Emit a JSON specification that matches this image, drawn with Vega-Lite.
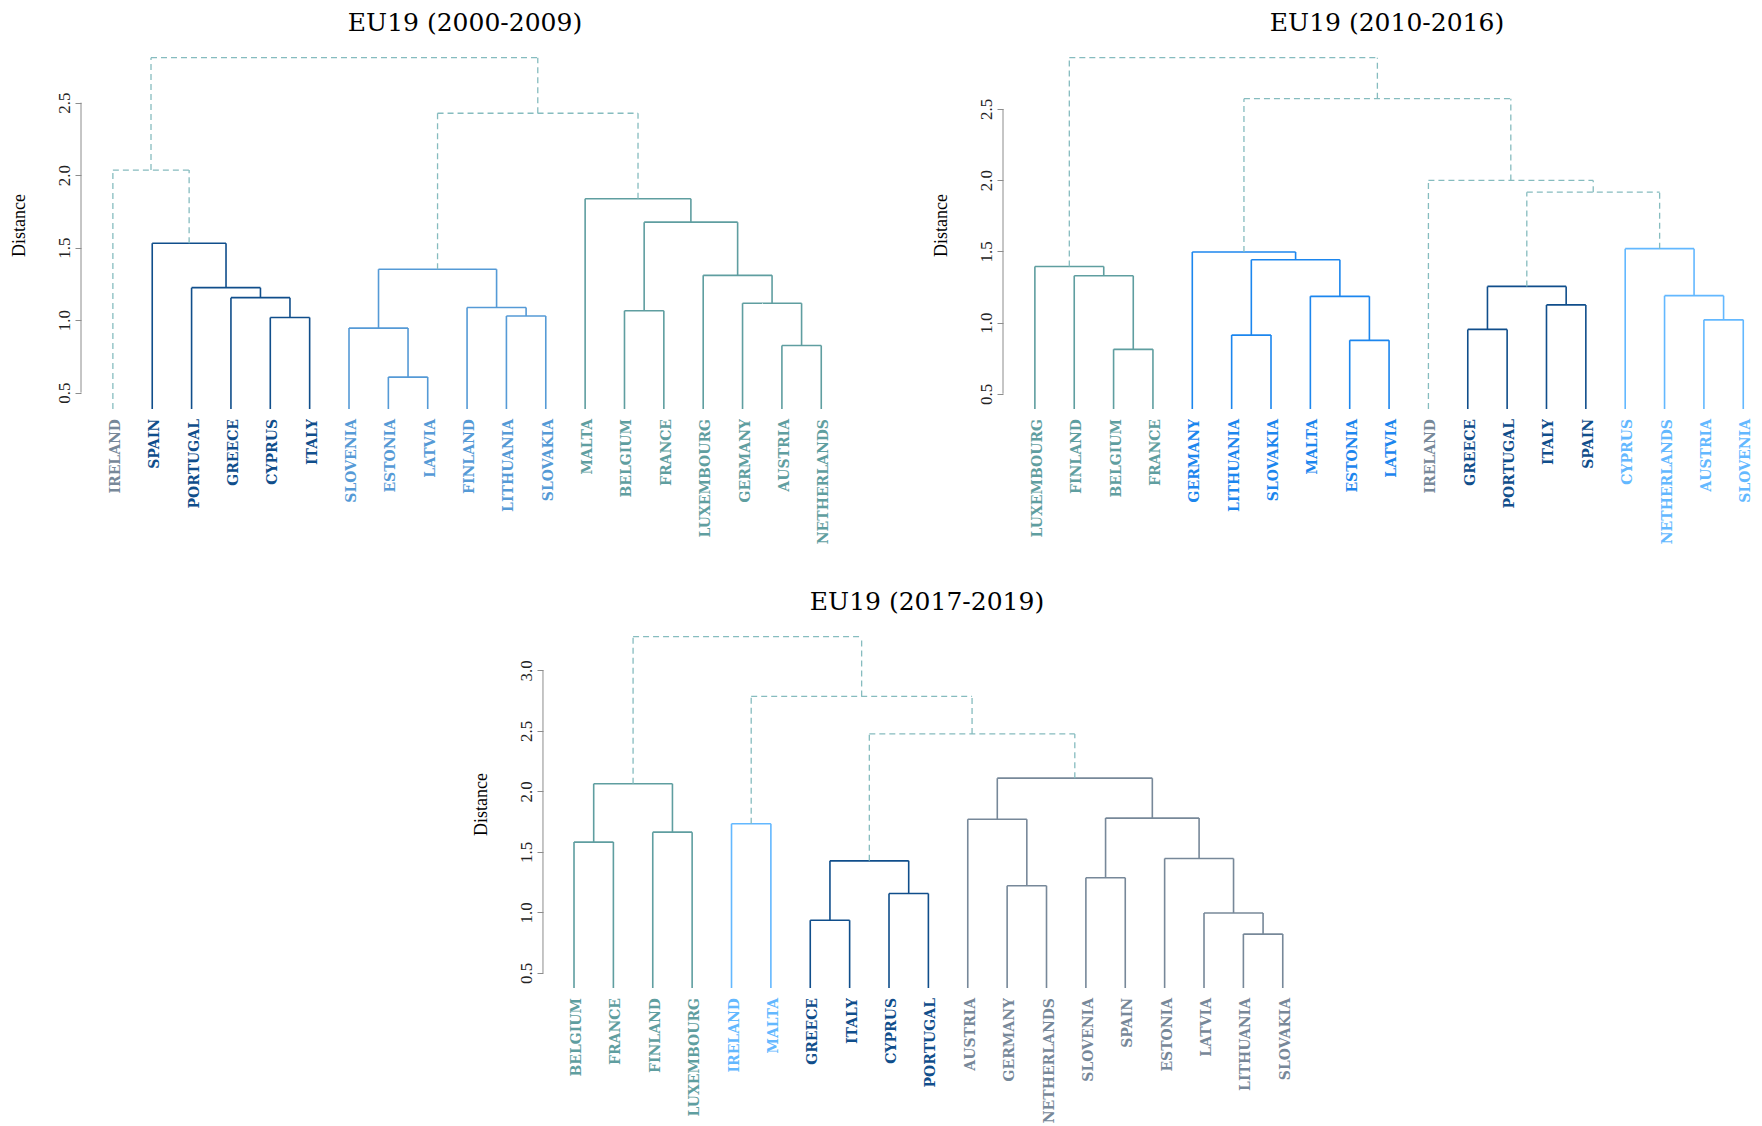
{
  "$schema": "https://vega.github.io/schema/vega-lite/v6.json",
  "background": "white",
  "padding": {"left": 10, "top": 11, "right": 0, "bottom": 0},
  "config": {
    "view": {"stroke": null},
    "axisX": {"disable": true},
    "axisY": {
      "domain": false, "grid": false, "ticks": true, "tickSize": 6, "tickColor": "#8c8c8c", "tickWidth": 1,
      "labelAngle": 270, "labelAlign": "center", "labelBaseline": "bottom", "labelPadding": 2,
      "labelFont": "Liberation Serif", "labelFontSize": 17, "labelColor": "#222222", "labelFlush": false, "labelOverlap": false,
      "format": ".1f",
      "titleFont": "Liberation Serif", "titleFontSize": 18, "titleFontWeight": "normal", "titleColor": "#000000",
      "titleAngle": 270, "titleX": -62, "titleY": 168, "titleAlign": "center", "titleBaseline": "middle"
    },
    "title": {"font": "DejaVu Serif", "fontSize": 25, "fontWeight": "normal", "color": "#000000", "anchor": "middle", "frame": "group", "offset": 21, "dx": 6}
  },
  "datasets": {
    "nodes": [
      {"p": 1, "lx": 5, "lh": 0, "rx": 6, "rh": 0, "h": 1.018, "k": "K2"},
      {"p": 1, "lx": 4, "lh": 0, "rx": 5.5, "rh": 1.018, "h": 1.155, "k": "K2"},
      {"p": 1, "lx": 3, "lh": 0, "rx": 4.75, "rh": 1.155, "h": 1.224, "k": "K2"},
      {"p": 1, "lx": 2, "lh": 0, "rx": 3.875, "rh": 1.224, "h": 1.53, "k": "K2"},
      {"p": 1, "lx": 1, "lh": 0, "rx": 2.9375, "rh": 1.53, "h": 2.035, "k": "K0"},
      {"p": 1, "lx": 8, "lh": 0, "rx": 9, "rh": 0, "h": 0.607, "k": "K3"},
      {"p": 1, "lx": 7, "lh": 0, "rx": 8.5, "rh": 0.607, "h": 0.945, "k": "K3"},
      {"p": 1, "lx": 11, "lh": 0, "rx": 12, "rh": 0, "h": 1.028, "k": "K3"},
      {"p": 1, "lx": 10, "lh": 0, "rx": 11.5, "rh": 1.028, "h": 1.087, "k": "K3"},
      {"p": 1, "lx": 7.75, "lh": 0.945, "rx": 10.75, "rh": 1.087, "h": 1.351, "k": "K3"},
      {"p": 1, "lx": 18, "lh": 0, "rx": 19, "rh": 0, "h": 0.825, "k": "K4"},
      {"p": 1, "lx": 17, "lh": 0, "rx": 18.5, "rh": 0.825, "h": 1.116, "k": "K4"},
      {"p": 1, "lx": 16, "lh": 0, "rx": 17.75, "rh": 1.116, "h": 1.309, "k": "K4"},
      {"p": 1, "lx": 14, "lh": 0, "rx": 15, "rh": 0, "h": 1.065, "k": "K4"},
      {"p": 1, "lx": 14.5, "lh": 1.065, "rx": 16.875, "rh": 1.309, "h": 1.676, "k": "K4"},
      {"p": 1, "lx": 13, "lh": 0, "rx": 15.6875, "rh": 1.676, "h": 1.837, "k": "K4"},
      {"p": 1, "lx": 9.25, "lh": 1.351, "rx": 14.34375, "rh": 1.837, "h": 2.427, "k": "K0"},
      {"p": 1, "lx": 1.96875, "lh": 2.035, "rx": 11.796875, "rh": 2.427, "h": 2.81, "k": "K0"},

      {"p": 2, "lx": 3, "lh": 0, "rx": 4, "rh": 0, "h": 0.812, "k": "K4"},
      {"p": 2, "lx": 2, "lh": 0, "rx": 3.5, "rh": 0.812, "h": 1.329, "k": "K4"},
      {"p": 2, "lx": 1, "lh": 0, "rx": 2.75, "rh": 1.329, "h": 1.394, "k": "K4"},
      {"p": 2, "lx": 6, "lh": 0, "rx": 7, "rh": 0, "h": 0.912, "k": "K5"},
      {"p": 2, "lx": 9, "lh": 0, "rx": 10, "rh": 0, "h": 0.875, "k": "K5"},
      {"p": 2, "lx": 8, "lh": 0, "rx": 9.5, "rh": 0.875, "h": 1.184, "k": "K5"},
      {"p": 2, "lx": 6.5, "lh": 0.912, "rx": 8.75, "rh": 1.184, "h": 1.441, "k": "K5"},
      {"p": 2, "lx": 5, "lh": 0, "rx": 7.625, "rh": 1.441, "h": 1.496, "k": "K5"},
      {"p": 2, "lx": 12, "lh": 0, "rx": 13, "rh": 0, "h": 0.952, "k": "K2"},
      {"p": 2, "lx": 14, "lh": 0, "rx": 15, "rh": 0, "h": 1.124, "k": "K2"},
      {"p": 2, "lx": 12.5, "lh": 0.952, "rx": 14.5, "rh": 1.124, "h": 1.254, "k": "K2"},
      {"p": 2, "lx": 18, "lh": 0, "rx": 19, "rh": 0, "h": 1.019, "k": "K6"},
      {"p": 2, "lx": 17, "lh": 0, "rx": 18.5, "rh": 1.019, "h": 1.189, "k": "K6"},
      {"p": 2, "lx": 16, "lh": 0, "rx": 17.75, "rh": 1.189, "h": 1.519, "k": "K6"},
      {"p": 2, "lx": 13.5, "lh": 1.254, "rx": 16.875, "rh": 1.519, "h": 1.916, "k": "K0"},
      {"p": 2, "lx": 11, "lh": 0, "rx": 15.1875, "rh": 1.916, "h": 1.998, "k": "K0"},
      {"p": 2, "lx": 6.3125, "lh": 1.496, "rx": 13.09375, "rh": 1.998, "h": 2.572, "k": "K0"},
      {"p": 2, "lx": 1.875, "lh": 1.394, "rx": 9.703125, "rh": 2.572, "h": 2.86, "k": "K0"},

      {"p": 3, "lx": 1, "lh": 0, "rx": 2, "rh": 0, "h": 1.581, "k": "K4"},
      {"p": 3, "lx": 3, "lh": 0, "rx": 4, "rh": 0, "h": 1.663, "k": "K4"},
      {"p": 3, "lx": 1.5, "lh": 1.581, "rx": 3.5, "rh": 1.663, "h": 2.063, "k": "K4"},
      {"p": 3, "lx": 5, "lh": 0, "rx": 6, "rh": 0, "h": 1.732, "k": "K6"},
      {"p": 3, "lx": 7, "lh": 0, "rx": 8, "rh": 0, "h": 0.935, "k": "K2"},
      {"p": 3, "lx": 9, "lh": 0, "rx": 10, "rh": 0, "h": 1.157, "k": "K2"},
      {"p": 3, "lx": 7.5, "lh": 0.935, "rx": 9.5, "rh": 1.157, "h": 1.426, "k": "K2"},
      {"p": 3, "lx": 12, "lh": 0, "rx": 13, "rh": 0, "h": 1.221, "k": "K1"},
      {"p": 3, "lx": 11, "lh": 0, "rx": 12.5, "rh": 1.221, "h": 1.77, "k": "K1"},
      {"p": 3, "lx": 14, "lh": 0, "rx": 15, "rh": 0, "h": 1.286, "k": "K1"},
      {"p": 3, "lx": 18, "lh": 0, "rx": 19, "rh": 0, "h": 0.821, "k": "K1"},
      {"p": 3, "lx": 17, "lh": 0, "rx": 18.5, "rh": 0.821, "h": 0.996, "k": "K1"},
      {"p": 3, "lx": 16, "lh": 0, "rx": 17.75, "rh": 0.996, "h": 1.446, "k": "K1"},
      {"p": 3, "lx": 14.5, "lh": 1.286, "rx": 16.875, "rh": 1.446, "h": 1.779, "k": "K1"},
      {"p": 3, "lx": 11.75, "lh": 1.77, "rx": 15.6875, "rh": 1.779, "h": 2.109, "k": "K1"},
      {"p": 3, "lx": 8.5, "lh": 1.426, "rx": 13.71875, "rh": 2.109, "h": 2.474, "k": "K0"},
      {"p": 3, "lx": 5.5, "lh": 1.732, "rx": 11.109375, "rh": 2.474, "h": 2.784, "k": "K0"},
      {"p": 3, "lx": 2.5, "lh": 2.063, "rx": 8.3046875, "rh": 2.784, "h": 3.278, "k": "K0"}
    ],
    "leaves": [
      {"p": 1, "pos": 1, "name": "IRELAND", "k": "K1"},
      {"p": 1, "pos": 2, "name": "SPAIN", "k": "K2"},
      {"p": 1, "pos": 3, "name": "PORTUGAL", "k": "K2"},
      {"p": 1, "pos": 4, "name": "GREECE", "k": "K2"},
      {"p": 1, "pos": 5, "name": "CYPRUS", "k": "K2"},
      {"p": 1, "pos": 6, "name": "ITALY", "k": "K2"},
      {"p": 1, "pos": 7, "name": "SLOVENIA", "k": "K3"},
      {"p": 1, "pos": 8, "name": "ESTONIA", "k": "K3"},
      {"p": 1, "pos": 9, "name": "LATVIA", "k": "K3"},
      {"p": 1, "pos": 10, "name": "FINLAND", "k": "K3"},
      {"p": 1, "pos": 11, "name": "LITHUANIA", "k": "K3"},
      {"p": 1, "pos": 12, "name": "SLOVAKIA", "k": "K3"},
      {"p": 1, "pos": 13, "name": "MALTA", "k": "K4"},
      {"p": 1, "pos": 14, "name": "BELGIUM", "k": "K4"},
      {"p": 1, "pos": 15, "name": "FRANCE", "k": "K4"},
      {"p": 1, "pos": 16, "name": "LUXEMBOURG", "k": "K4"},
      {"p": 1, "pos": 17, "name": "GERMANY", "k": "K4"},
      {"p": 1, "pos": 18, "name": "AUSTRIA", "k": "K4"},
      {"p": 1, "pos": 19, "name": "NETHERLANDS", "k": "K4"},

      {"p": 2, "pos": 1, "name": "LUXEMBOURG", "k": "K4"},
      {"p": 2, "pos": 2, "name": "FINLAND", "k": "K4"},
      {"p": 2, "pos": 3, "name": "BELGIUM", "k": "K4"},
      {"p": 2, "pos": 4, "name": "FRANCE", "k": "K4"},
      {"p": 2, "pos": 5, "name": "GERMANY", "k": "K5"},
      {"p": 2, "pos": 6, "name": "LITHUANIA", "k": "K5"},
      {"p": 2, "pos": 7, "name": "SLOVAKIA", "k": "K5"},
      {"p": 2, "pos": 8, "name": "MALTA", "k": "K5"},
      {"p": 2, "pos": 9, "name": "ESTONIA", "k": "K5"},
      {"p": 2, "pos": 10, "name": "LATVIA", "k": "K5"},
      {"p": 2, "pos": 11, "name": "IRELAND", "k": "K1"},
      {"p": 2, "pos": 12, "name": "GREECE", "k": "K2"},
      {"p": 2, "pos": 13, "name": "PORTUGAL", "k": "K2"},
      {"p": 2, "pos": 14, "name": "ITALY", "k": "K2"},
      {"p": 2, "pos": 15, "name": "SPAIN", "k": "K2"},
      {"p": 2, "pos": 16, "name": "CYPRUS", "k": "K6"},
      {"p": 2, "pos": 17, "name": "NETHERLANDS", "k": "K6"},
      {"p": 2, "pos": 18, "name": "AUSTRIA", "k": "K6"},
      {"p": 2, "pos": 19, "name": "SLOVENIA", "k": "K6"},

      {"p": 3, "pos": 1, "name": "BELGIUM", "k": "K4"},
      {"p": 3, "pos": 2, "name": "FRANCE", "k": "K4"},
      {"p": 3, "pos": 3, "name": "FINLAND", "k": "K4"},
      {"p": 3, "pos": 4, "name": "LUXEMBOURG", "k": "K4"},
      {"p": 3, "pos": 5, "name": "IRELAND", "k": "K6"},
      {"p": 3, "pos": 6, "name": "MALTA", "k": "K6"},
      {"p": 3, "pos": 7, "name": "GREECE", "k": "K2"},
      {"p": 3, "pos": 8, "name": "ITALY", "k": "K2"},
      {"p": 3, "pos": 9, "name": "CYPRUS", "k": "K2"},
      {"p": 3, "pos": 10, "name": "PORTUGAL", "k": "K2"},
      {"p": 3, "pos": 11, "name": "AUSTRIA", "k": "K1"},
      {"p": 3, "pos": 12, "name": "GERMANY", "k": "K1"},
      {"p": 3, "pos": 13, "name": "NETHERLANDS", "k": "K1"},
      {"p": 3, "pos": 14, "name": "SLOVENIA", "k": "K1"},
      {"p": 3, "pos": 15, "name": "SPAIN", "k": "K1"},
      {"p": 3, "pos": 16, "name": "ESTONIA", "k": "K1"},
      {"p": 3, "pos": 17, "name": "LATVIA", "k": "K1"},
      {"p": 3, "pos": 18, "name": "LITHUANIA", "k": "K1"},
      {"p": 3, "pos": 19, "name": "SLOVAKIA", "k": "K1"}
    ]
  },
  "columns": 2,
  "align": "none",
  "bounds": "flush",
  "spacing": {"row": 227, "column": 166},
  "concat": [
    {
      "width": 756, "height": 352,
      "title": {"text": "EU19 (2000-2009)"},
      "layer": [
        {"data": {"name": "nodes"}, "transform": [{"filter": "datum.p == 1"}],
         "mark": {"type": "rule"},
         "encoding": {
           "x": {"field": "lx", "type": "quantitative", "scale": {"domain": [0.19, 19.4], "nice": false, "zero": false}},
           "x2": {"field": "rx"},
           "y": {"field": "h", "type": "quantitative", "title": "Distance", "scale": {"domain": [0.387, 2.815], "nice": false, "zero": false, "clamp": true}, "axis": {"values": [0.5, 1, 1.5, 2, 2.5]}},
           "color": {"field": "k", "type": "nominal", "legend": null, "scale": {"domain": ["K0","K1","K2","K3","K4","K5","K6"], "range": ["#86bcbf","#778899","#104E8B","#559AD6","#5F9EA0","#1C86EE","#63B8FF"]}},
           "strokeDash": {"condition": {"test": "datum.k === 'K0'", "value": [6, 4]}, "value": [1, 0]},
           "strokeWidth": {"condition": {"test": "datum.k === 'K0'", "value": 1.3}, "value": 1.6}
         }},
        {"data": {"name": "nodes"}, "transform": [{"filter": "datum.p == 1"}],
         "mark": {"type": "rule"},
         "encoding": {
           "x": {"field": "lx", "type": "quantitative"},
           "y": {"field": "lh", "type": "quantitative", "title": "Distance"},
           "y2": {"field": "h"},
           "color": {"field": "k", "type": "nominal", "legend": null},
           "strokeDash": {"condition": {"test": "datum.k === 'K0'", "value": [6, 4]}, "value": [1, 0]},
           "strokeWidth": {"condition": {"test": "datum.k === 'K0'", "value": 1.3}, "value": 1.6}
         }},
        {"data": {"name": "nodes"}, "transform": [{"filter": "datum.p == 1"}],
         "mark": {"type": "rule"},
         "encoding": {
           "x": {"field": "rx", "type": "quantitative"},
           "y": {"field": "rh", "type": "quantitative", "title": "Distance"},
           "y2": {"field": "h"},
           "color": {"field": "k", "type": "nominal", "legend": null},
           "strokeDash": {"condition": {"test": "datum.k === 'K0'", "value": [6, 4]}, "value": [1, 0]},
           "strokeWidth": {"condition": {"test": "datum.k === 'K0'", "value": 1.3}, "value": 1.6}
         }},
        {"data": {"values": [{}]},
         "mark": {"type": "rule", "color": "#8c8c8c", "strokeWidth": 1},
         "encoding": {
           "x": {"datum": 0.19, "type": "quantitative"},
           "y": {"datum": 0.5, "type": "quantitative", "title": "Distance"},
           "y2": {"datum": 2.5}
         }},
        {"data": {"name": "leaves"}, "transform": [{"filter": "datum.p == 1"}],
         "mark": {"type": "text", "angle": 270, "align": "right", "baseline": "middle", "dx": -10, "dy": 3, "font": "DejaVu Serif", "fontSize": 14, "fontWeight": "bold"},
         "encoding": {
           "x": {"field": "pos", "type": "quantitative"},
           "y": {"datum": 0.387, "type": "quantitative", "title": "Distance"},
           "text": {"field": "name"},
           "color": {"field": "k", "type": "nominal", "legend": null}
         }}
      ]
    },
    {
      "width": 756, "height": 352,
      "title": {"text": "EU19 (2010-2016)"},
      "layer": [
        {"data": {"name": "nodes"}, "transform": [{"filter": "datum.p == 2"}],
         "mark": {"type": "rule"},
         "encoding": {
           "x": {"field": "lx", "type": "quantitative", "scale": {"domain": [0.19, 19.4], "nice": false, "zero": false}},
           "x2": {"field": "rx"},
           "y": {"field": "h", "type": "quantitative", "title": "Distance", "scale": {"domain": [0.393, 2.865], "nice": false, "zero": false, "clamp": true}, "axis": {"values": [0.5, 1, 1.5, 2, 2.5]}},
           "color": {"field": "k", "type": "nominal", "legend": null},
           "strokeDash": {"condition": {"test": "datum.k === 'K0'", "value": [6, 4]}, "value": [1, 0]},
           "strokeWidth": {"condition": {"test": "datum.k === 'K0'", "value": 1.3}, "value": 1.6}
         }},
        {"data": {"name": "nodes"}, "transform": [{"filter": "datum.p == 2"}],
         "mark": {"type": "rule"},
         "encoding": {
           "x": {"field": "lx", "type": "quantitative"},
           "y": {"field": "lh", "type": "quantitative", "title": "Distance"},
           "y2": {"field": "h"},
           "color": {"field": "k", "type": "nominal", "legend": null},
           "strokeDash": {"condition": {"test": "datum.k === 'K0'", "value": [6, 4]}, "value": [1, 0]},
           "strokeWidth": {"condition": {"test": "datum.k === 'K0'", "value": 1.3}, "value": 1.6}
         }},
        {"data": {"name": "nodes"}, "transform": [{"filter": "datum.p == 2"}],
         "mark": {"type": "rule"},
         "encoding": {
           "x": {"field": "rx", "type": "quantitative"},
           "y": {"field": "rh", "type": "quantitative", "title": "Distance"},
           "y2": {"field": "h"},
           "color": {"field": "k", "type": "nominal", "legend": null},
           "strokeDash": {"condition": {"test": "datum.k === 'K0'", "value": [6, 4]}, "value": [1, 0]},
           "strokeWidth": {"condition": {"test": "datum.k === 'K0'", "value": 1.3}, "value": 1.6}
         }},
        {"data": {"values": [{}]},
         "mark": {"type": "rule", "color": "#8c8c8c", "strokeWidth": 1},
         "encoding": {
           "x": {"datum": 0.19, "type": "quantitative"},
           "y": {"datum": 0.5, "type": "quantitative", "title": "Distance"},
           "y2": {"datum": 2.5}
         }},
        {"data": {"name": "leaves"}, "transform": [{"filter": "datum.p == 2"}],
         "mark": {"type": "text", "angle": 270, "align": "right", "baseline": "middle", "dx": -10, "dy": 3, "font": "DejaVu Serif", "fontSize": 14, "fontWeight": "bold"},
         "encoding": {
           "x": {"field": "pos", "type": "quantitative"},
           "y": {"datum": 0.393, "type": "quantitative", "title": "Distance"},
           "text": {"field": "name"},
           "color": {"field": "k", "type": "nominal", "legend": null}
         }}
      ]
    },
    {
      "width": 296, "height": 352,
      "data": {"values": [{"a": 1}]},
      "mark": {"type": "text", "text": ""},
      "encoding": {}
    },
    {
      "width": 756, "height": 352,
      "title": {"text": "EU19 (2017-2019)", "dx": -454},
      "layer": [
        {"data": {"name": "nodes"}, "transform": [{"filter": "datum.p == 3"}],
         "mark": {"type": "rule"},
         "encoding": {
           "x": {"field": "lx", "type": "quantitative", "scale": {"domain": [11.895, 31.095], "nice": false, "zero": false}},
           "x2": {"field": "rx"},
           "y": {"field": "h", "type": "quantitative", "title": "Distance", "scale": {"domain": [0.376, 3.283], "nice": false, "zero": false, "clamp": true}, "axis": {"values": [0.5, 1, 1.5, 2, 2.5, 3], "offset": 460}},
           "color": {"field": "k", "type": "nominal", "legend": null},
           "strokeDash": {"condition": {"test": "datum.k === 'K0'", "value": [6, 4]}, "value": [1, 0]},
           "strokeWidth": {"condition": {"test": "datum.k === 'K0'", "value": 1.3}, "value": 1.6}
         }},
        {"data": {"name": "nodes"}, "transform": [{"filter": "datum.p == 3"}],
         "mark": {"type": "rule"},
         "encoding": {
           "x": {"field": "lx", "type": "quantitative"},
           "y": {"field": "lh", "type": "quantitative", "title": "Distance"},
           "y2": {"field": "h"},
           "color": {"field": "k", "type": "nominal", "legend": null},
           "strokeDash": {"condition": {"test": "datum.k === 'K0'", "value": [6, 4]}, "value": [1, 0]},
           "strokeWidth": {"condition": {"test": "datum.k === 'K0'", "value": 1.3}, "value": 1.6}
         }},
        {"data": {"name": "nodes"}, "transform": [{"filter": "datum.p == 3"}],
         "mark": {"type": "rule"},
         "encoding": {
           "x": {"field": "rx", "type": "quantitative"},
           "y": {"field": "rh", "type": "quantitative", "title": "Distance"},
           "y2": {"field": "h"},
           "color": {"field": "k", "type": "nominal", "legend": null},
           "strokeDash": {"condition": {"test": "datum.k === 'K0'", "value": [6, 4]}, "value": [1, 0]},
           "strokeWidth": {"condition": {"test": "datum.k === 'K0'", "value": 1.3}, "value": 1.6}
         }},
        {"data": {"values": [{}]},
         "mark": {"type": "rule", "color": "#8c8c8c", "strokeWidth": 1},
         "encoding": {
           "x": {"datum": 0.212, "type": "quantitative"},
           "y": {"datum": 0.5, "type": "quantitative", "title": "Distance"},
           "y2": {"datum": 3.0}
         }},
        {"data": {"name": "leaves"}, "transform": [{"filter": "datum.p == 3"}],
         "mark": {"type": "text", "angle": 270, "align": "right", "baseline": "middle", "dx": -10, "dy": 3, "font": "DejaVu Serif", "fontSize": 14, "fontWeight": "bold"},
         "encoding": {
           "x": {"field": "pos", "type": "quantitative"},
           "y": {"datum": 0.376, "type": "quantitative", "title": "Distance"},
           "text": {"field": "name"},
           "color": {"field": "k", "type": "nominal", "legend": null}
         }}
      ]
    }
  ]
}
